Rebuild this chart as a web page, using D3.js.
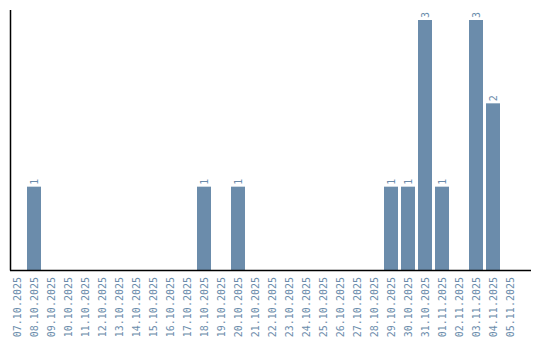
<!DOCTYPE html>
<html>
<head>
<meta charset="utf-8">
<script src="https://cdn.jsdelivr.net/npm/d3@7"></script>
<style>
  html, body { margin: 0; padding: 0; background: #fff; }
</style>
</head>
<body>
<div id="chart"></div>
<script>
/* daily counts, 07.10.2025 – 05.11.2025 */
const dates = [
  '07.10.2025', '08.10.2025', '09.10.2025', '10.10.2025', '11.10.2025',
  '12.10.2025', '13.10.2025', '14.10.2025', '15.10.2025', '16.10.2025',
  '17.10.2025', '18.10.2025', '19.10.2025', '20.10.2025', '21.10.2025',
  '22.10.2025', '23.10.2025', '24.10.2025', '25.10.2025', '26.10.2025',
  '27.10.2025', '28.10.2025', '29.10.2025', '30.10.2025', '31.10.2025',
  '01.11.2025', '02.11.2025', '03.11.2025', '04.11.2025', '05.11.2025',
];
const counts = [
  0, 1, 0, 0, 0,
  0, 0, 0, 0, 0,
  0, 1, 0, 1, 0,
  0, 0, 0, 0, 0,
  0, 0, 1, 1, 3,
  1, 0, 3, 2, 0,
];

const W = 540, H = 340;
const BAR = '#6b8cab';
const FONT = "'DejaVu Sans Mono', monospace";

const data = dates.map((d, i) => ({ date: d, value: counts[i] }));

const svg = d3.select('#chart').append('svg')
  .attr('width', W).attr('height', H);

const x = d3.scaleBand()
  .domain(dates)
  .range([10, 517])
  .paddingInner(3 / 17)
  .paddingOuter(0);

const y = d3.scaleLinear()
  .domain([0, 3])
  .range([270, 20]);

/* ── Bars ── */
svg.append('g').selectAll('rect')
  .data(data.filter(d => d.value > 0))
  .join('rect')
  .attr('x', d => x(d.date))
  .attr('y', d => y(d.value))
  .attr('width', x.bandwidth())
  .attr('height', d => y(0) - y(d.value))
  .attr('fill', BAR);

/* ── Value labels ── */
svg.append('g').selectAll('text')
  .data(data.filter(d => d.value > 0))
  .join('text')
  .attr('transform', d => `translate(${x(d.date) + x.bandwidth() / 2 + 3.5},${y(d.value) - 2}) rotate(-90)`)
  .attr('fill', BAR)
  .attr('font-family', FONT)
  .attr('font-size', '10px')
  .text(d => d.value);

/* ── X tick labels ── */
const xAxis = svg.append('g')
  .attr('transform', `translate(0,${y(0)})`)
  .call(d3.axisBottom(x).tickSize(0).tickPadding(0));
xAxis.select('.domain').remove();
xAxis.selectAll('text')
  .attr('fill', BAR)
  .attr('font-family', FONT)
  .attr('font-size', '10px')
  .attr('text-anchor', 'end')
  .attr('dy', null)
  .attr('y', 0)
  .attr('transform', 'translate(3.5,7) rotate(-90)');

/* ── Axis lines ── */
svg.append('line')
  .attr('x1', 10.5).attr('x2', 10.5)
  .attr('y1', 10).attr('y2', 270.5)
  .attr('stroke', '#000').attr('stroke-width', 1.5);
svg.append('line')
  .attr('x1', 10).attr('x2', 531)
  .attr('y1', 270.5).attr('y2', 270.5)
  .attr('stroke', '#000').attr('stroke-width', 1.5);
</script>
</body>
</html>
